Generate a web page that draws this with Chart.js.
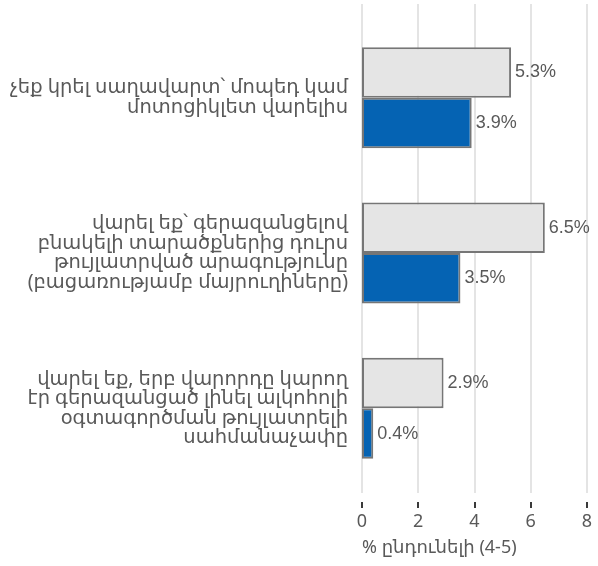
<!DOCTYPE html>
<html><head><meta charset="utf-8">
<script src="https://cdn.jsdelivr.net/npm/chart.js@4"></script>
<style>html,body{margin:0;padding:0;background:#fff}#wrap{width:598px;height:566px}</style>
</head><body><div id="wrap"><canvas id="c" width="598" height="566"></canvas></div>
<script>
const categories = [
  ["չեք կրել սաղավարտ՝ մոպեդ կամ", "մոտոցիկլետ վարելիս"],
  ["վարել եք՝ գերազանցելով", "բնակելի տարածքներից դուրս", "թույլատրված արագությունը", "(բացառությամբ մայրուղիները)"],
  ["վարել եք, երբ վարորդը կարող", "էր գերազանցած լինել ալկոհոլի", "օգտագործման թույլատրելի", "սահմանաչափը"]
];
const seriesA = [5.3, 6.5, 2.9];
const seriesB = [3.9, 3.5, 0.4];
const xTickValues = [0, 2, 4, 6, 8];
const xTitle = "% ընդունելի (4-5)";

const FONT = "'Noto Sans', 'DejaVu Sans', sans-serif";
const TEXT = '#595959';

function noPad(scale) {
  scale.paddingTop = 0; scale.paddingBottom = 0;
  scale.paddingLeft = 0; scale.paddingRight = 0;
}

const gridPlugin = {
  id: 'xgrid',
  beforeDatasetsDraw(chart) {
    const ctx = chart.ctx, sx = chart.scales.x, ca = chart.chartArea;
    ctx.save();
    ctx.lineWidth = 2;
    sx.ticks.forEach(t => {
      const x = Math.round(sx.getPixelForValue(t.value));
      ctx.strokeStyle = '#e4e4e4';
      ctx.beginPath(); ctx.moveTo(x, ca.top - 16); ctx.lineTo(x, ca.bottom + 7); ctx.stroke();
      ctx.strokeStyle = '#3a3a3a';
      ctx.beginPath(); ctx.moveTo(x, ca.bottom + 16); ctx.lineTo(x, ca.bottom + 22); ctx.stroke();
    });
    ctx.restore();
  }
};
const labelPlugin = {
  id: 'vlabels',
  afterDatasetsDraw(chart) {
    const ctx = chart.ctx;
    ctx.save();
    ctx.fillStyle = TEXT;
    ctx.font = "18px 'Liberation Sans', Arial, sans-serif";
    ctx.textAlign = 'left';
    ctx.textBaseline = 'middle';
    chart.data.datasets.forEach((ds, i) => {
      chart.getDatasetMeta(i).data.forEach((el, j) => {
        ctx.fillText(ds.data[j].toFixed(1) + '%', el.x + 4, el.y);
      });
    });
    ctx.restore();
  }
};

new Chart(document.getElementById('c'), {
  type: 'bar',
  data: {
    labels: categories,
    datasets: [
      { data: seriesA, backgroundColor: '#e5e5e5', borderColor: '#767676', borderWidth: 2, borderSkipped: false, categoryPercentage: 0.65, barPercentage: 1.0 },
      { data: seriesB, backgroundColor: '#0563b3', borderColor: '#767676', borderWidth: 2, borderSkipped: false, categoryPercentage: 0.65, barPercentage: 1.0 }
    ]
  },
  options: {
    indexAxis: 'y',
    responsive: false,
    animation: false,
    devicePixelRatio: 1,
    layout: { padding: { top: 20, right: 11, left: 0, bottom: 0 } },
    plugins: { legend: { display: false }, tooltip: { enabled: false } },
    scales: {
      x: {
        min: 0, max: 8,
        afterBuildTicks(scale) { scale.ticks = xTickValues.map(v => ({ value: v })); },
        ticks: { color: TEXT, font: { family: FONT, size: 18 }, padding: 25, maxRotation: 0 },
        grid: { display: false, drawTicks: false },
        border: { display: false },
        title: { display: true, text: xTitle, align: 'start', color: TEXT, font: { family: FONT, size: 18 }, padding: { top: 0, bottom: 7 } },
        afterFit(scale) { scale.height = 80; noPad(scale); }
      },
      y: {
        ticks: { color: TEXT, font: { family: FONT, size: 19.5, lineHeight: '19.5px' }, padding: 14 },
        grid: { display: false, drawTicks: false },
        border: { display: false },
        afterFit(scale) { scale.width = 362; noPad(scale); }
      }
    }
  },
  plugins: [gridPlugin, labelPlugin]
});
</script>
</body></html>
